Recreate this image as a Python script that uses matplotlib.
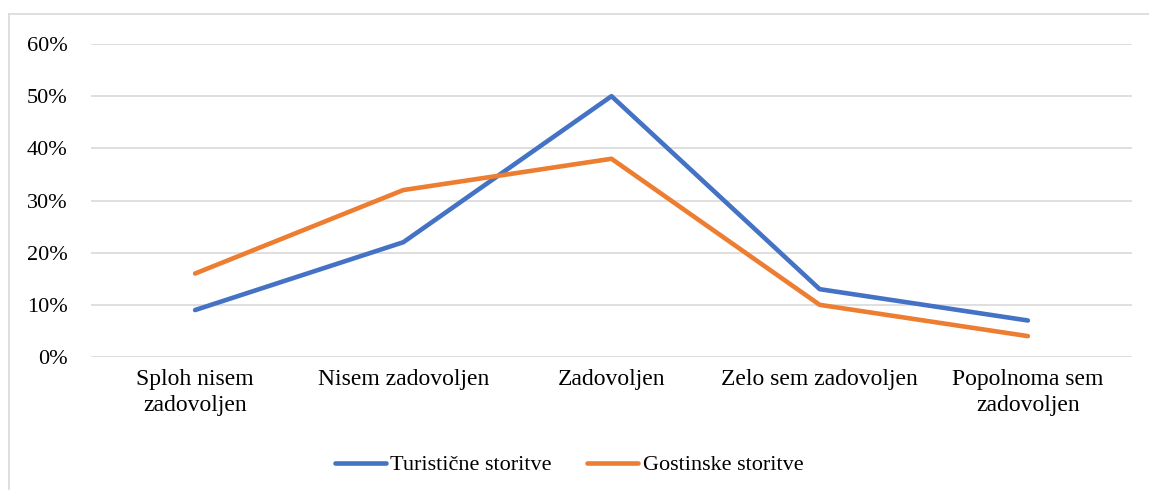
import matplotlib.pyplot as plt
from matplotlib.lines import Line2D
from matplotlib.ticker import PercentFormatter

# podatki
kategorije = ["Sploh nisem\nzadovoljen", "Nisem zadovoljen", "Zadovoljen",
              "Zelo sem zadovoljen", "Popolnoma sem\nzadovoljen"]
turisticne = [9, 22, 50, 13, 7]
gostinske = [16, 32, 38, 10, 4]

plt.rcParams['font.family'] = ['Liberation Serif', 'DejaVu Serif']

fig = plt.figure(figsize=(11.49, 4.90), dpi=100)
ax = fig.add_axes([91/1149, 1-357/490, (1132-91)/1149, (357-44)/490])

x = range(len(kategorije))
ax.plot(x, turisticne, color="#4472C4", lw=3.3, label="Turistične storitve", solid_capstyle="round")
ax.plot(x, gostinske, color="#ED7D31", lw=3.3, label="Gostinske storitve", solid_capstyle="round")

ax.set_xlim(-0.5, len(kategorije) - 0.5)
ax.set_ylim(0, 60)
ax.set_yticks(range(0, 61, 10))
ax.yaxis.set_major_formatter(PercentFormatter(decimals=0))
ax.set_xticks(list(x))
ax.set_xticklabels(kategorije, fontsize=17, linespacing=1.25)
ax.tick_params(axis="y", labelsize=16, length=0, pad=17)
ax.tick_params(axis="x", length=0, pad=9)
ax.grid(axis="y", color="#D9D9D9", lw=1.2)
ax.set_axisbelow(True)
for s in ax.spines.values():
    s.set_visible(False)

# okvir grafikona
fig.add_artist(Line2D([8.5/1149, 8.5/1149], [0, 1-14/490], color="#D9D9D9", lw=1.2))
fig.add_artist(Line2D([8.5/1149, 1], [1-14/490, 1-14/490], color="#D9D9D9", lw=1.2))

fig.legend(loc="center", bbox_to_anchor=(569/1149, 1-465/490), ncol=2, frameon=False,
           fontsize=16, handlelength=2.3, handletextpad=0.2, columnspacing=1.6)

fig.savefig("out.png", dpi=100)
